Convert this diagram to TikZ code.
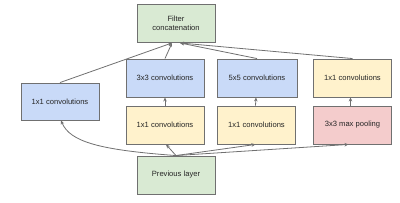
\documentclass[tikz,border=0pt]{standalone}
\usepackage{fontspec}
\setmainfont{Liberation Sans}
\usetikzlibrary{arrows.meta}
\definecolor{lgreen}{HTML}{D9EAD3}
\definecolor{lblue}{HTML}{C9DAF8}
\definecolor{lyellow}{HTML}{FFF2CC}
\definecolor{lred}{HTML}{F4CCCC}
\definecolor{edge}{HTML}{707070}
\begin{document}
\begin{tikzpicture}[x=1pt,y=-1pt,
  box/.style={draw=edge,line width=0.9pt,minimum width=78pt,minimum height=38pt,inner sep=0pt,align=center,font=\fontsize{7.6}{9.5}\selectfont,text=black!85},
  arr/.style={draw=edge,line width=0.8pt,-{Stealth[length=4pt,width=3.5pt]}}]
\useasboundingbox (0,0) rectangle (400,202);
\node[box,fill=lgreen] (concat) at (176,23.5) {Filter\\concatenation};
\node[box,fill=lblue] (c3) at (165,78) {3x3 convolutions};
\node[box,fill=lblue,minimum width=80pt] (c5) at (257,78) {5x5 convolutions};
\node[box,fill=lyellow] (c1r) at (352.5,78) {1x1 convolutions};
\node[box,fill=lblue,minimum height=37pt] (c1l) at (60,101.5) {1x1 convolutions};
\node[box,fill=lyellow] (r3) at (165,125) {1x1 convolutions};
\node[box,fill=lyellow] (r5) at (256.5,125) {1x1 convolutions};
\node[box,fill=lred] (pool) at (352.5,125) {3x3 max pooling};
\node[box,fill=lgreen] (prev) at (176,175) {Previous layer};
\coordinate (ca) at ([xshift=-4pt]concat.south);
\coordinate (cb) at ([xshift=4pt]concat.south);
\coordinate (pa) at (prev.north);
\draw[arr] (c1l.north) -- (ca);
\draw[arr] (c3.north) -- (ca);
\draw[arr] (c5.north) -- (cb);
\draw[arr] (c1r.north) -- (cb);
\draw[arr] (r3.north) -- (c3.south);
\draw[arr] ([xshift=-1pt]r5.north) -- ([xshift=-1pt]c5.south);
\draw[arr] ([xshift=-2pt]pool.north) -- ([xshift=-2pt]c1r.south);
\draw[arr] (pa) .. controls (100,150) and (70,142) .. ([xshift=1pt]c1l.south);
\draw[arr] (pa) -- ([xshift=1pt]r3.south);
\draw[arr] (pa) -- ([xshift=-1pt]r5.south);
\draw[arr] (pa) -- ([xshift=-4pt]pool.south);
\end{tikzpicture}
\end{document}
